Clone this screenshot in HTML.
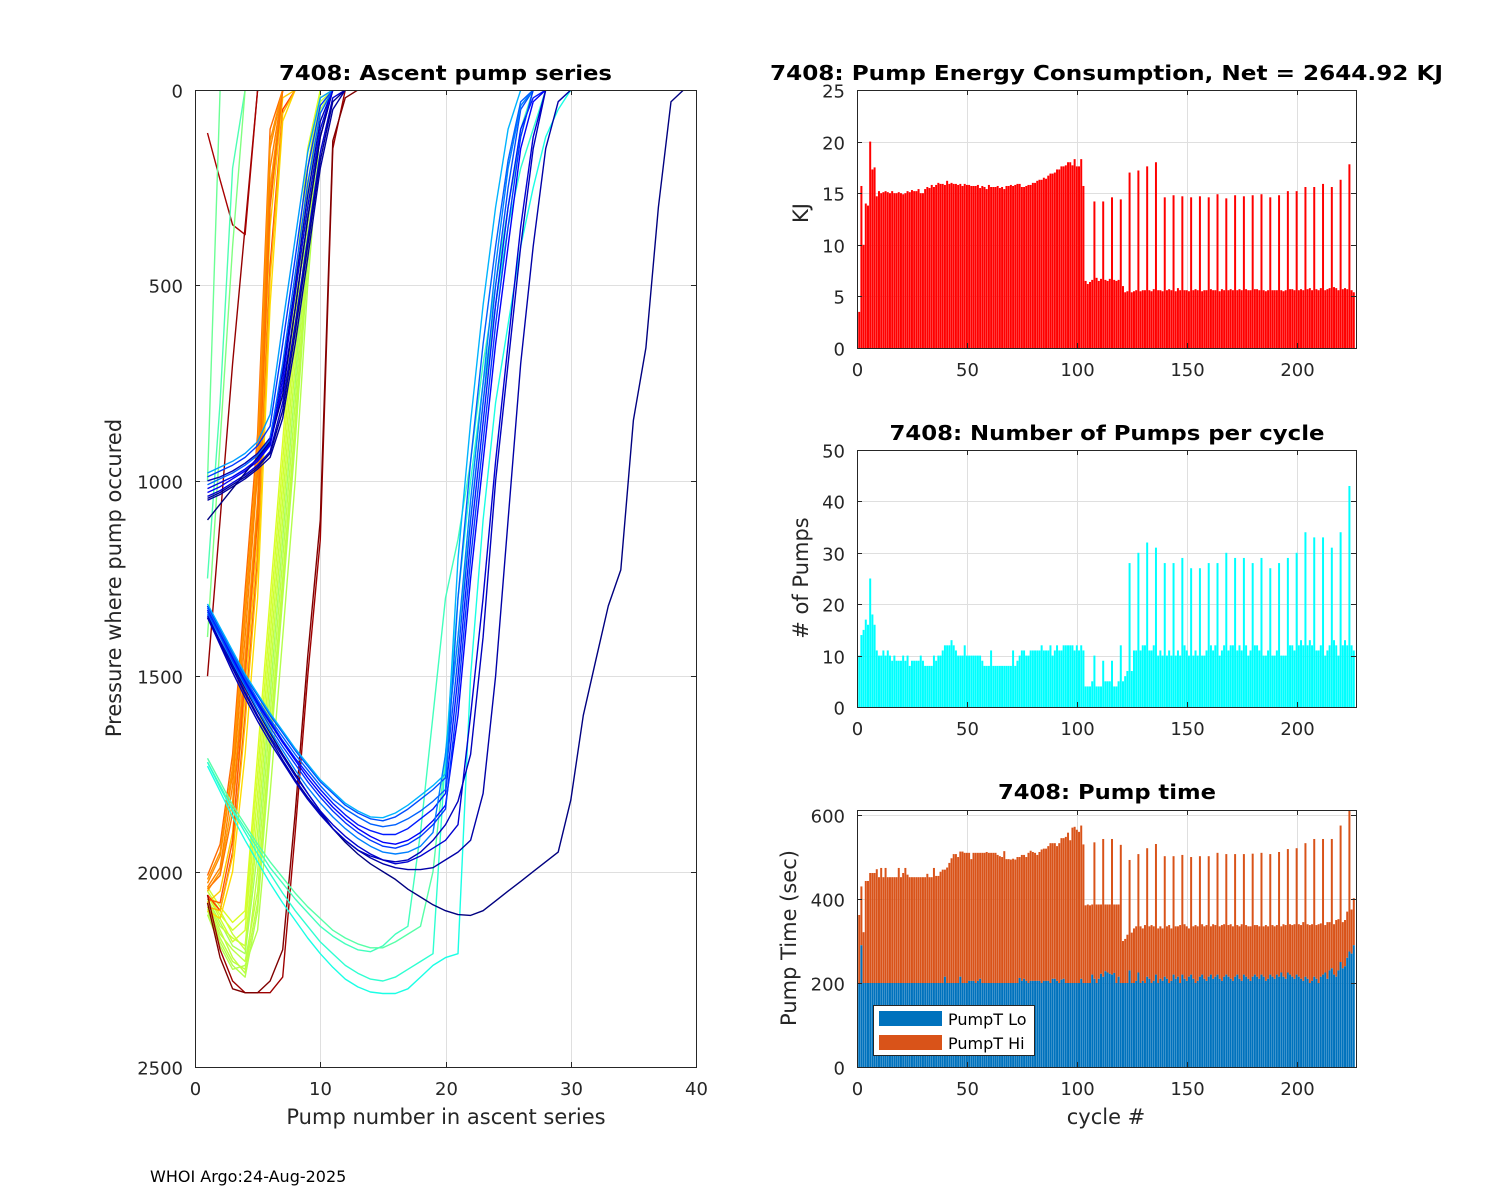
<!DOCTYPE html>
<html><head><meta charset="utf-8"><title>7408 pump</title>
<style>
html,body{margin:0;padding:0;background:#fff;}
svg{display:block;font-family:"DejaVu Sans","Liberation Sans",sans-serif;}
</style></head>
<body>
<svg id="fig" xmlns="http://www.w3.org/2000/svg" width="1500" height="1200" viewBox="0 0 1500 1200">
<rect x="0" y="0" width="1500" height="1200" fill="#fff"/>
</svg>
<script>
// ---------- bar chart data (cycle 1..226) ----------
const energyKJ = [
3.5,15.7,10,14,13.8,20,17.3,17.5,14.7,15.2,
15.0,15.1,15.2,15.1,15.0,15.2,15.0,15.0,15.1,15.0,
14.9,15.0,15.2,15.1,15.3,15.2,15.2,15.4,15.0,15.0,
15.4,15.6,15.5,15.8,15.6,15.8,16.0,15.9,15.9,15.8,
16.2,15.9,16.0,15.9,15.9,15.8,15.9,15.7,15.9,15.8,
15.8,15.7,15.7,15.7,15.8,15.5,15.7,15.6,15.4,15.8,
15.6,15.6,15.6,15.7,15.5,15.6,15.4,15.7,15.7,15.8,
15.7,15.8,15.9,15.9,15.6,15.6,15.7,15.8,15.8,16.0,
16.0,16.2,16.3,16.3,16.5,16.4,16.7,16.9,16.9,17.0,
17.3,17.3,17.6,17.6,17.7,18.0,18.0,17.7,18.3,17.6,
17.6,18.3,15.7,6.5,6.2,6.4,6.6,14.2,6.8,6.5,
6.7,14.2,6.6,6.5,6.7,14.6,6.6,6.5,6.6,14.4,
6.0,5.4,5.5,17.0,5.4,5.5,5.6,17.2,5.5,5.6,
5.6,17.6,5.6,5.5,5.7,18.0,5.6,5.6,5.5,14.6,
5.6,5.7,5.6,14.8,5.5,5.8,5.6,14.7,5.6,5.6,
5.5,14.6,5.6,5.7,5.6,14.7,5.5,5.6,5.6,14.6,
5.7,5.6,5.6,14.9,5.5,5.7,5.6,14.5,5.6,5.7,
5.6,14.8,5.6,5.7,5.6,14.7,5.7,5.6,5.6,14.8,
5.7,5.7,5.6,14.9,5.6,5.5,5.6,14.6,5.6,5.6,
5.6,14.8,5.6,5.5,5.6,15.2,5.7,5.7,5.6,15.2,
5.6,5.7,5.6,15.6,5.7,5.8,5.6,15.6,5.7,5.6,
5.8,15.9,5.6,5.7,5.8,15.6,5.9,5.8,5.6,16.3,
5.7,5.8,5.7,17.8,5.6,5.4];
const pumpCount = [
10,14,15,17,16,25,18,16,11,10,
10,11,10,11,10,9,10,9,9,9,
10,9,10,8,9,9,9,9,10,9,
8,8,8,8,10,9,10,10,11,12,
12,12,13,12,11,10,10,10,12,10,
10,10,10,10,10,10,9,8,8,8,
11,8,8,8,8,8,8,8,8,8,
11,8,9,10,11,11,10,10,11,11,
11,11,11,12,11,11,11,12,10,11,
12,11,11,12,12,12,12,12,11,12,
11,12,11,4,4,4,5,10,4,4,
4,9,5,5,5,9,4,4,5,12,
5,6,7,28,7,11,11,30,11,12,
12,32,11,11,12,31,10,11,10,28,
10,11,10,28,10,11,10,29,12,11,
10,27,10,11,10,27,10,10,11,28,
12,11,12,28,10,11,12,30,11,12,
12,29,11,12,11,29,12,10,11,28,
12,12,11,29,10,10,11,27,10,10,
11,28,10,10,10,29,12,12,11,30,
12,13,12,34,12,13,12,33,11,11,
12,33,10,11,12,31,13,12,10,34,
12,13,12,43,12,11];
const pumpTLo = [
200,290,200,200,200,200,200,200,200,200,
200,200,200,200,200,200,200,200,200,200,
200,200,200,200,200,200,200,200,200,200,
200,200,200,200,200,200,200,200,200,215,
200,200,200,200,200,200,215,200,200,200,
205,205,205,200,205,210,200,200,200,200,
200,200,200,200,200,200,200,200,200,200,
200,200,200,212,205,210,205,200,205,205,
205,205,205,200,205,205,205,200,210,210,
205,200,208,210,200,200,200,200,200,200,
200,210,200,200,200,200,220,210,200,210,
222,215,228,225,222,220,224,200,215,200,
200,200,200,230,200,200,205,225,200,205,
200,215,210,200,205,220,200,210,205,215,
210,200,205,220,210,215,200,220,210,205,
215,220,210,200,205,215,220,210,205,215,
220,210,215,220,210,205,215,220,215,210,
205,215,220,210,205,220,215,210,205,215,
220,215,210,220,215,205,210,220,215,210,
220,215,225,215,210,225,220,215,210,220,
215,210,205,215,210,200,205,215,210,200,
215,220,225,210,230,235,220,215,230,250,
235,240,260,275,270,290];
const pumpTTotal = [
362,430,321,443,443,462,462,462,471,452,
474,452,474,452,452,452,452,452,474,452,
462,474,458,452,452,452,452,452,452,452,
452,460,452,452,474,455,455,465,470,470,
475,486,497,507,507,500,513,513,510,510,
510,495,510,510,510,510,510,510,512,510,
510,510,510,505,502,500,514,495,495,494,
496,494,500,500,505,505,500,510,515,512,
510,505,512,518,520,520,526,533,533,533,
526,533,545,545,548,558,540,570,572,565,
560,575,530,385,387,385,387,535,387,387,
387,543,387,387,387,543,387,387,387,529,
300,305,315,493,320,330,335,507,335,330,
338,521,335,338,335,531,330,335,330,502,
335,338,330,502,335,335,338,505,340,335,
330,500,335,338,335,502,340,335,338,502,
335,340,338,510,335,338,340,507,338,340,
335,507,338,335,340,507,338,335,335,508,
338,338,335,510,335,338,335,507,338,335,
338,512,335,340,338,519,340,338,340,521,
340,338,345,533,340,338,340,543,338,340,
342,543,338,345,345,543,340,350,352,575,
345,350,370,612,375,402];
const cycleTicks = [0,50,100,150,200];
const energyTicks = [0,5,10,15,20,25];
const pumpTicks = [0,10,20,30,40,50];
const timeTicks = [0,200,400,600];

// ---------- ascent pump series (pressure at pump 1..N), seriesColor = colour position ----------
const seriesColor = [0.56,0.57,0.55,0.58,0.56,0.54,0.59,0.55,0.57,0.56,0.58, 0.74,0.77,0.72,0.68,0.82,0.75,0.66,0.79,0.73,0.76,0.70, 0.97,1.0,0.98,0.96, 0.48,0.45,0.50, 0.44,0.42,0.40,0.46, 0.0, 0.20,0.15,0.12,0.25,0.08,0.04,0.30,0.18,0.06,0.22, 0.05,0.12,0.18,0.08,0.22,0.03,0.28,0.0,0.10,0.02];
const seriesPressure = [
[2080,2150,2220,2260,2000,1600,1200,800,350,0],
[2050,2100,2160,2200,1900,1500,1100,700,300,0],
[2100,2180,2240,2270,2100,1700,1300,900,450,50,0],
[2060,2120,2180,2150,1800,1400,1000,600,250,0],
[2090,2160,2200,2230,2050,1650,1250,850,400,20,0],
[2070,2130,2190,2210,1950,1550,1150,750,300,0],
[2040,2090,2130,2100,1700,1300,900,500,150,0],
[2110,2190,2250,2240,2150,1800,1400,1000,500,100,0],
[2075,2140,2170,2190,1850,1450,1050,650,200,0],
[2095,2170,2230,2250,2080,1680,1280,880,420,30,0],
[2060,2110,2150,2120,1750,1350,950,550,200,0],
[2030,1960,1750,1350,950,150,0],
[2010,1930,1700,1280,880,100,0],
[2050,2000,1820,1450,1050,250,0],
[2080,2050,1900,1550,1150,350,20,0],
[2060,2100,1950,1600,1200,450,50,0],
[2040,1990,1780,1400,980,200,0],
[2100,2120,2000,1700,1300,550,80,0],
[2070,2080,1920,1500,1100,300,0],
[2020,1950,1730,1320,920,130,0],
[2045,2010,1850,1480,1080,280,0],
[2090,2100,1960,1620,1220,480,60,0],
[2060,2200,2280,2310,2310,2310,2270,1900,1500,1150,150,0],
[2080,2220,2300,2310,2310,2280,2200,1850,1450,1100,130,20,0],
[1500,1100,700,350,0],
[110,230,345,370,0],
[1000,0],
[1250,800,200,0],
[1400,900,400,0],
[1720,1780,1840,1890,1940,1990,2030,2070,2105,2140,2165,2185,2200,2205,2190,2160,2140,1900,1600,1300,1150,950,700,500,300,100,0],
[1720,1785,1845,1900,1955,2005,2055,2100,2140,2180,2210,2240,2260,2275,2280,2270,2250,2230,2210,1700,1300,1000,750,550,350,200,100,0],
[1730,1795,1860,1920,1975,2030,2080,2125,2170,2210,2245,2275,2295,2308,2312,2312,2300,2270,2240,2220,2210,1500,1100,800,600,400,250,120,50,0],
[1710,1770,1830,1880,1930,1975,2015,2055,2090,2120,2150,2170,2185,2195,2195,2180,2160,2140,2000,1700,1400,1100,800,550,300,120,0],
[1350,1410,1470,1530,1590,1645,1700,1750,1800,1845,1890,1925,1955,1980,2000,2020,2045,2065,2085,2100,2110,2112,2100,2075,2050,2025,2000,1975,1950,1817,1600,1459,1320,1228,845,660,300,30,0],
[1320,1380,1440,1500,1550,1600,1645,1690,1730,1770,1800,1830,1850,1865,1870,1860,1840,1815,1790,1760,1450,1100,800,500,250,50,0],
[1320,1385,1450,1510,1565,1615,1665,1710,1750,1790,1825,1855,1880,1895,1905,1905,1890,1865,1840,1800,1500,1150,850,550,300,100,20,0],
[1330,1390,1455,1515,1570,1620,1670,1715,1760,1800,1835,1865,1890,1910,1925,1930,1920,1900,1870,1830,1600,1250,950,650,400,150,30,0],
[1340,1400,1465,1525,1585,1640,1690,1740,1785,1825,1860,1890,1915,1935,1950,1955,1950,1935,1900,1700,1400,1050,750,450,200,40,0],
[1345,1410,1475,1540,1600,1655,1705,1755,1800,1845,1880,1910,1935,1955,1970,1980,1975,1960,1940,1920,1880,1600,1300,950,650,350,120,0],
[1350,1415,1480,1545,1605,1660,1715,1765,1810,1850,1890,1920,1945,1965,1980,1990,1995,1995,1990,1970,1950,1920,1800,1500,1100,700,400,150,30,0],
[1315,1375,1435,1495,1545,1595,1640,1685,1725,1765,1795,1825,1845,1860,1862,1850,1830,1805,1780,1750,1200,850,550,300,100,0],
[1335,1395,1460,1520,1575,1630,1680,1725,1770,1810,1845,1875,1900,1920,1935,1940,1930,1910,1880,1840,1550,1200,900,600,350,120,0],
[1350,1420,1490,1555,1615,1670,1720,1770,1815,1855,1890,1920,1945,1960,1970,1975,1970,1950,1920,1880,1820,1700,1400,1000,700,400,150,0],
[1325,1385,1445,1505,1560,1610,1655,1700,1740,1780,1815,1840,1860,1878,1885,1880,1865,1845,1820,1790,1300,950,650,400,180,30,0],
[1000,990,975,955,930,890,720,500,270,80,0],
[1030,1015,995,975,950,910,760,560,330,120,0],
[990,975,960,940,910,860,650,430,200,40,0],
[1040,1025,1005,985,960,925,800,600,380,160,20,0],
[1010,995,980,960,935,895,700,470,240,60,0],
[1050,1035,1015,995,970,940,840,650,430,200,50,0],
[980,965,950,930,900,830,600,380,160,20,0],
[1100,1060,1020,980,940,900,780,560,330,120,0],
[1020,1005,990,970,945,905,740,520,300,100,0],
[1045,1030,1010,990,965,930,820,620,400,180,30,0]
];
const pumpNumTicks = [0,10,20,30,40];
const pressureTicks = [0,500,1000,1500,2000,2500];

const NS = "http://www.w3.org/2000/svg";
const fig = document.getElementById('fig');
function mk(tag, attrs, parent){
  const e = document.createElementNS(NS, tag);
  for (const k in attrs) e.setAttribute(k, attrs[k]);
  (parent||fig).appendChild(e);
  return e;
}
function jet(t){
  const c = v => Math.max(0, Math.min(1, v));
  const r = c(1.5 - Math.abs(4*t - 3)), g = c(1.5 - Math.abs(4*t - 2)), b = c(1.5 - Math.abs(4*t - 1));
  return 'rgb(' + Math.round(r*255) + ',' + Math.round(g*255) + ',' + Math.round(b*255) + ')';
}
function txt(s, x, y, opts, name){
  const t = mk('text', Object.assign({x:x, y:y, 'font-size':18, fill:'#262626'}, opts||{}));
  t.textContent = s;
  
  
  return t;
}

function axes(box, xmin, xmax, ymin, ymax, xt, yt, name, reverseY){
  const X = v => box.x0 + (v - xmin) / (xmax - xmin) * (box.x1 - box.x0);
  const Y = reverseY ? (v => box.y0 + (v - ymin) / (ymax - ymin) * (box.y1 - box.y0))
                     : (v => box.y1 - (v - ymin) / (ymax - ymin) * (box.y1 - box.y0));
  const g = mk('g', {});
  
  
  const grid = mk('g', {stroke:'#dfdfdf', 'stroke-width':1}, g);
  
  
  xt.forEach(v => { const x = Math.round(X(v)) + 0.5; mk('line', {x1:x, x2:x, y1:box.y0, y2:box.y1}, grid); });
  yt.forEach(v => { const y = Math.round(Y(v)) + 0.5; mk('line', {x1:box.x0, x2:box.x1, y1:y, y2:y}, grid); });
  const plot = mk('g', {}, g);
  
  
  return {X, Y, g, plot, box, xt, yt, name};
}
function finishAxes(a){
  const b = a.box;
  const fr = mk('g', {stroke:'#262626', 'stroke-width':1, fill:'none'}, a.g);
  
  
  mk('rect', {x:b.x0 + 0.5, y:b.y0 + 0.5, width:b.x1 - b.x0, height:b.y1 - b.y0}, fr);
  a.xt.forEach(v => {
    const x = Math.round(a.X(v)) + 0.5;
    mk('line', {x1:x, x2:x, y1:b.y1, y2:b.y1 - 5}, fr);
    mk('line', {x1:x, x2:x, y1:b.y0, y2:b.y0 + 5}, fr);
    txt(String(v), x, b.y1 + 28, {'text-anchor':'middle'}, a.name + '-x-tick-label');
  });
  a.yt.forEach(v => {
    const y = Math.round(a.Y(v)) + 0.5;
    mk('line', {x1:b.x0, x2:b.x0 + 5, y1:y, y2:y}, fr);
    mk('line', {x1:b.x1, x2:b.x1 - 5, y1:y, y2:y}, fr);
    txt(String(v), b.x0 - 12, y + 7, {'text-anchor':'end'}, a.name + '-y-tick-label');
  });
}
function title(s, cx, y, w, name){
  txt(s, cx, y, {'text-anchor':'middle', 'font-weight':'bold', 'font-size':20, fill:'#000', textLength:w, lengthAdjust:'spacingAndGlyphs'}, name);
}

// ---------- left: ascent pump series ----------
const L = axes({x0:195, x1:696, y0:90, y1:1067}, 0, 40, 0, 2500, pumpNumTicks, pressureTicks, 'ascent-pump-axes', true);
mk('clipPath', {id:'clipL'}, fig).appendChild((() => { const r = document.createElementNS(NS, 'rect'); r.setAttribute('x', 195); r.setAttribute('y', 90); r.setAttribute('width', 501); r.setAttribute('height', 977); return r; })());
L.plot.setAttribute('clip-path', 'url(#clipL)');
seriesPressure.forEach((arr, i) => {
  const pts = arr.map((p, k) => L.X(k + 1).toFixed(1) + ',' + L.Y(p).toFixed(1)).join(' ');
  const pl = mk('polyline', {points:pts, fill:'none', stroke:jet(seriesColor[i]), 'stroke-width':1.4, 'stroke-linejoin':'round'}, L.plot);
  
  
});
finishAxes(L);
title('7408: Ascent pump series', 445.5, 80, 333, 'ascent-pump-title');
txt('Pump number in ascent series', 446, 1124, {'text-anchor':'middle', 'font-size':21}, 'ascent-x-axis-title');
txt('Pressure where pump occured', 0, 0, {'text-anchor':'middle', 'font-size':21, transform:'translate(121,578) rotate(-90)'}, 'ascent-y-axis-title');

// ---------- right: bar charts ----------
function bars(a, vals, color, name, base){
  vals.forEach((v, i) => {
    const c = i + 1;
    const b0 = base ? base[i] : 0;
    const top = b0 + (base ? Math.max(0, v - b0) : v);
    const x = a.X(c - 0.45), w = a.X(c + 0.45) - a.X(c - 0.45);
    const y = a.Y(top), h = a.Y(b0) - a.Y(top);
    const r = mk('rect', {x:x.toFixed(2), y:y.toFixed(2), width:w.toFixed(2), height:Math.max(0, h).toFixed(2), fill:color}, a.plot);
    
    
  });
}
const E = axes({x0:857, x1:1356, y0:90, y1:348}, 0, 227, 0, 25, cycleTicks, energyTicks, 'energy-axes');
bars(E, energyKJ, '#ff0000', 'energy-bar');
finishAxes(E);
title('7408: Pump Energy Consumption,  Net = 2644.92 KJ', 1106.5, 80, 673, 'energy-title');
txt('KJ', 0, 0, {'text-anchor':'middle', 'font-size':21, transform:'translate(808,213) rotate(-90)'}, 'energy-y-axis-title');

const P = axes({x0:857, x1:1356, y0:450, y1:707}, 0, 227, 0, 50, cycleTicks, pumpTicks, 'pumps-axes');
bars(P, pumpCount, '#00ffff', 'pumps-bar');
finishAxes(P);
title('7408: Number of Pumps per cycle', 1107, 440, 435, 'pumps-title');
txt('# of Pumps', 0, 0, {'text-anchor':'middle', 'font-size':21, transform:'translate(808,578) rotate(-90)'}, 'pumps-y-axis-title');

const T = axes({x0:857, x1:1356, y0:810, y1:1067}, 0, 227, 0, 612, cycleTicks, timeTicks, 'pumptime-axes');
bars(T, pumpTTotal, '#d95319', 'pumptime-hi-bar', pumpTLo);
bars(T, pumpTLo, '#0072bd', 'pumptime-lo-bar');
finishAxes(T);
title('7408: Pump time', 1107, 799, 218, 'pumptime-title');
txt('Pump Time (sec)', 0, 0, {'text-anchor':'middle', 'font-size':21, transform:'translate(796,938) rotate(-90)'}, 'pumptime-y-axis-title');
txt('cycle #', 1106, 1124, {'text-anchor':'middle', 'font-size':21}, 'pumptime-x-axis-title');

const lg = mk('g', {});


mk('rect', {x:873.5, y:1005.5, width:161, height:50, fill:'#fff', stroke:'#262626', 'stroke-width':1}, lg);
const s1 = mk('rect', {x:879, y:1011, width:63, height:15, fill:'#0072bd'}, lg);


const s2 = mk('rect', {x:879, y:1035, width:63, height:15, fill:'#d95319'}, lg);


txt('PumpT Lo', 948, 1025, {'font-size':16, fill:'#000'}, 'legend-entry-lo');
txt('PumpT Hi', 948, 1049, {'font-size':16, fill:'#000'}, 'legend-entry-hi');

txt('WHOI Argo:24-Aug-2025', 150, 1182, {'font-size':16, fill:'#000'}, 'footer-note');
</script>
</body></html>
